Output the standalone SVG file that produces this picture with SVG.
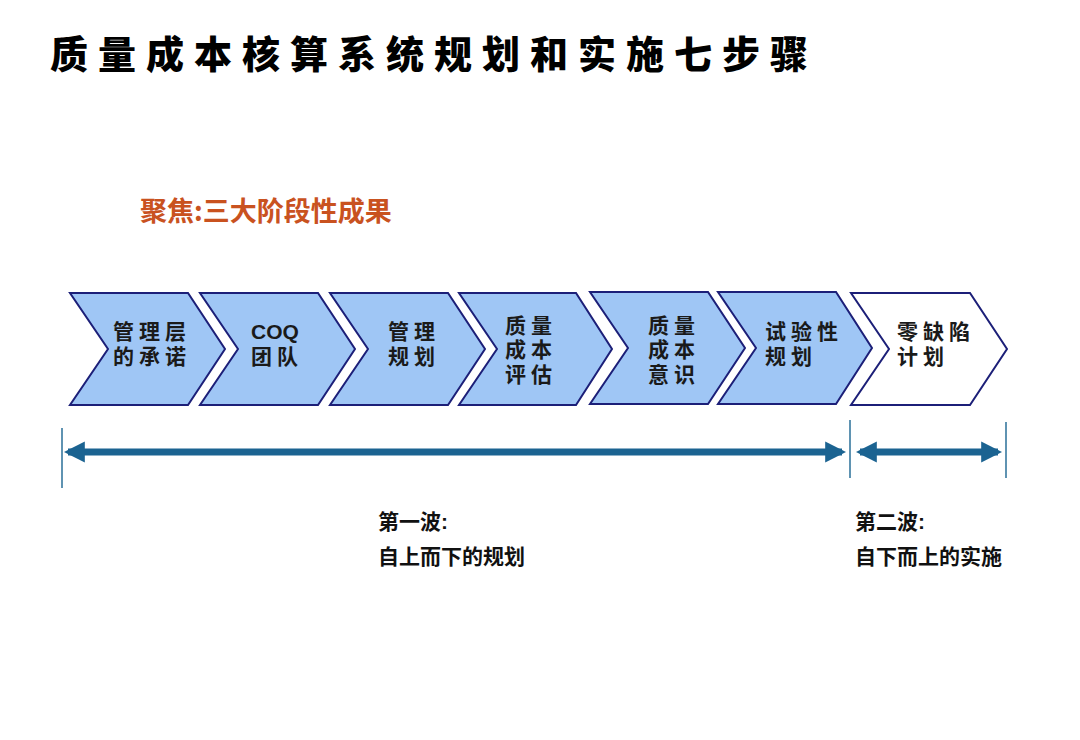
<svg xmlns="http://www.w3.org/2000/svg" width="1080" height="740" viewBox="0 0 1080 740">
<style>
.chev{fill:#9fc6f5;stroke:#1c1f78;stroke-width:2;stroke-linejoin:miter}
.chev.w{fill:#ffffff}
.ct{font-family:"Liberation Sans","Noto Sans CJK SC",sans-serif;font-size:21px;font-weight:bold;fill:#1a1a1a;letter-spacing:5px}
.ct.en{letter-spacing:0}
.lbl{font-family:"Liberation Sans","Noto Sans CJK SC",sans-serif;font-size:21px;font-weight:bold;fill:#111}
.vl{stroke:#2a6f99;stroke-width:1.5}
.ar{stroke:#1b6391;stroke-width:7;fill:none}
</style>
<defs>
<marker id="ah" viewBox="0 0 10 10" refX="8" refY="5" markerWidth="3" markerHeight="3.4" orient="auto-start-reverse" markerUnits="strokeWidth">
<path d="M0,0 L10,5 L0,10 z" fill="#1b6391"/>
</marker>
</defs>
<rect width="1080" height="740" fill="#ffffff"/>
<text x="50" y="68" font-family="'Noto Sans CJK SC',sans-serif" font-size="38" font-weight="900" letter-spacing="10" fill="#000">质量成本核算系统规划和实施七步骤</text>
<text x="140" y="221" font-family="'Noto Sans CJK SC',sans-serif" font-size="27" font-weight="bold" fill="#c9521f">聚焦:三大阶段性成果</text>

<g id="n1"><path class="chev" d="M70,293 L188,293 L225,349 L188,405 L70,405 L108,349 Z"/>
<text class="ct" x="113" y="339">管理层</text><text class="ct" x="113" y="364">的承诺</text></g>
<g id="n2"><path class="chev" d="M200,293 L318,293 L355,349 L318,405 L200,405 L238,349 Z"/>
<text class="ct en" x="251" y="339">COQ</text><text class="ct" x="251" y="364">团队</text></g>
<g id="n3"><path class="chev" d="M330,293 L448,293 L485,349 L448,405 L330,405 L368,349 Z"/>
<text class="ct" x="388" y="339">管理</text><text class="ct" x="388" y="364">规划</text></g>
<g id="n4"><path class="chev" d="M459,293 L576,293 L612,349 L576,405 L459,405 L497,349 Z"/>
<text class="ct" x="505" y="333">质量</text><text class="ct" x="505" y="357">成本</text><text class="ct" x="505" y="382">评估</text></g>
<g id="n5"><path class="chev" d="M590,292 L708,292 L745,348 L708,404 L590,404 L628,348 Z"/>
<text class="ct" x="648" y="333">质量</text><text class="ct" x="648" y="357">成本</text><text class="ct" x="648" y="382">意识</text></g>
<g id="n6"><path class="chev" d="M718,292 L836,292 L872,348 L836,404 L718,404 L756,348 Z"/>
<text class="ct" x="765" y="339">试验性</text><text class="ct" x="765" y="364">规划</text></g>
<g id="n7"><path class="chev w" d="M851,293 L970,293 L1007,349 L970,405 L851,405 L889,349 Z"/>
<text class="ct" x="897" y="339">零缺陷</text><text class="ct" x="897" y="364">计划</text></g>

<g id="connectors">
<line class="vl" x1="62" y1="428" x2="62" y2="488"/>
<line class="vl" x1="850" y1="420" x2="850" y2="478"/>
<line class="vl" x1="1006" y1="422" x2="1006" y2="478"/>
<line class="ar" x1="68" y1="452" x2="842" y2="452" marker-start="url(#ah)" marker-end="url(#ah)"/>
<line class="ar" x1="860" y1="452" x2="998" y2="452" marker-start="url(#ah)" marker-end="url(#ah)"/>
</g>

<text class="lbl" x="378" y="529">第一波:</text>
<text class="lbl" x="378" y="564">自上而下的规划</text>
<text class="lbl" x="855" y="529">第二波:</text>
<text class="lbl" x="855" y="564">自下而上的实施</text>
</svg>
